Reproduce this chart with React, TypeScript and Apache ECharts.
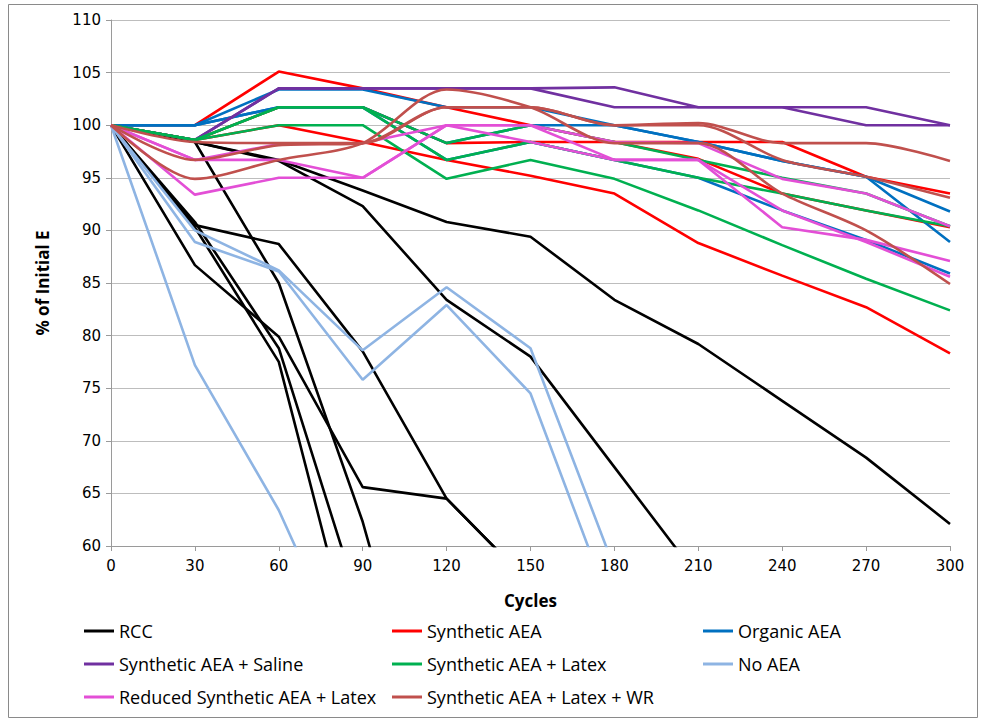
import React, { useEffect, useRef } from "react";
import * as echarts from "echarts";

const cycles = [0, 30, 60, 90, 120, 150, 180, 210, 240, 270, 300];
const yTicksMin = 60;
const yTicksMax = 110;

const groupNames = [
  "RCC",
  "Synthetic AEA",
  "Organic AEA",
  "Synthetic AEA + Saline",
  "Synthetic AEA + Latex",
  "No AEA",
  "Reduced Synthetic AEA + Latex",
  "Synthetic AEA + Latex + WR",
];
const groupColors = ["#000000", "#FF0000", "#0070C0", "#7030A0", "#00B050", "#8EB4E3", "#E34FD6", "#C0504D"];

// RCC
const rcc1 = [100, 98.4, 96.7, 93.8, 90.8, 89.4, 83.4, 79.2, 73.8, 68.4, 62.1];
const rcc2 = [100, 98.4, 96.6, 92.3, 83.4, 78.0, 67.5, 57.0, null, null, null];
const rcc3 = [100, 98.4, 85.0, 62.3, 34.0, null, null, null, null, null, null];
const rcc4 = [100, 86.7, 79.9, 65.6, 64.5, 56.4, null, null, null, null, null];
const rcc5 = [100, 90.5, 88.7, 78.5, 64.5, 56.4, null, null, null, null, null];
const rcc6 = [100, 90.8, 78.8, 53.5, null, null, null, null, null, null, null];
const rcc7 = [100, 90.3, 77.5, 46.6, null, null, null, null, null, null, null];
// Synthetic AEA
const sa1 = [100, 100, 105.1, 103.5, 101.7, 100, 98.4, 98.4, 98.4, 95.1, 93.5];
const sa2 = [100, 98.6, 101.7, 101.7, 98.3, 98.4, 98.4, 96.8, 93.5, 91.9, 90.3];
const sa3 = [100, 98.6, 100, 98.4, 96.7, 95.2, 93.5, 88.8, 85.7, 82.7, 78.3];
// Organic AEA
const oa1 = [100, 100, 103.4, 103.4, 101.7, 101.7, 100, 98.4, 96.6, 95.1, 91.8];
const oa2 = [100, 100, 101.7, 101.7, 98.3, 100, 100, 98.4, 96.6, 95.1, 88.9];
const oa3 = [100, 100, 101.7, 101.7, 96.7, 98.4, 96.7, 95.0, 91.9, 89.1, 85.9];
// Synthetic AEA + Saline
const sal1 = [100, 98.6, 103.5, 103.5, 103.5, 103.5, 103.6, 101.7, 101.7, 101.7, 100];
const sal2 = [100, 98.6, 103.5, 103.5, 103.5, 103.5, 101.7, 101.7, 101.7, 100, 100];
// Synthetic AEA + Latex
const lat1 = [100, 98.6, 101.7, 101.7, 98.3, 100, 98.4, 96.7, 95.0, 93.5, 90.4];
const lat2 = [100, 98.6, 101.7, 101.7, 96.7, 98.4, 96.7, 95.0, 93.5, 91.9, 90.4];
const lat3 = [100, 98.6, 100, 100, 94.9, 96.7, 94.9, 91.9, 88.6, 85.4, 82.4];
// No AEA
const na1 = [100, 77.2, 63.4, 45.8, null, null, null, null, null, null, null];
const na2 = [100, 90.0, 86.2, 78.6, 84.6, 78.8, 57.9, null, null, null, null];
const na3 = [100, 88.9, 86.1, 75.8, 82.9, 74.5, 53.3, null, null, null, null];
// Reduced Synthetic AEA + Latex
const rsl1 = [100, 96.7, 96.7, 95.0, 100, 100, 98.4, 98.3, 94.9, 93.5, 90.4];
const rsl2 = [100, 93.4, 95.0, 95.0, 100, 100, 96.7, 96.7, 90.3, 89.1, 87.1];
const rsl3 = [100, 96.7, 98.2, 98.3, 100, 98.4, 96.7, 96.7, 91.9, 88.9, 85.6];
// Synthetic AEA + Latex + WR
const wr1 = [100, 94.9, 96.7, 98.3, 103.4, 101.7, 98.3, 98.3, 93.5, 90.0, 84.9];
const wr2 = [100, 98.4, 98.3, 98.3, 101.7, 101.7, 100, 100.2, 98.3, 98.3, 96.6];
const wr3 = [100, 96.7, 98.1, 98.3, 101.7, 101.7, 100, 100, 96.7, 95.1, 93.1];

const groups: (number | null)[][][] = [
  [rcc1, rcc2, rcc3, rcc4, rcc5, rcc6, rcc7],
  [sa1, sa2, sa3],
  [oa1, oa2, oa3],
  [sal1, sal2],
  [lat1, lat2, lat3],
  [na1, na2, na3],
  [rsl1, rsl2, rsl3],
  [wr1, wr2, wr3],
];
const smoothGroups = [false, false, false, false, false, false, false, true];

const legendSlots = [
  [84, 622], [392, 622], [703, 622],
  [84, 655], [392, 655], [703, 655],
  [84, 688], [392, 688],
];

const narrow = "'Liberation Sans Narrow', 'Arial Narrow', 'Open Sans', sans-serif";

export default function App() {
  const ref = useRef<HTMLDivElement>(null);
  useEffect(() => {
    document.body.style.margin = "0";
    const chart = echarts.init(ref.current!, undefined, { renderer: "svg" });
    const series: any[] = [];
    groups.forEach((lines, gi) => {
      lines.forEach((vals) => {
        series.push({
          type: "line",
          name: groupNames[gi],
          data: cycles.map((c, i) => [c, vals[i]]),
          showSymbol: false,
          symbol: "none",
          smooth: smoothGroups[gi] ? 0.3 : false,
          connectNulls: false,
          clip: true,
          lineStyle: { color: groupColors[gi], width: 2.6 },
          itemStyle: { color: groupColors[gi] },
        });
      });
    });
    const legends = groupNames.map((n, i) => ({
      data: [n],
      left: legendSlots[i][0],
      top: legendSlots[i][1],
      padding: 0,
      icon: "rect",
      itemWidth: 30,
      itemHeight: 3,
      itemGap: 0,
      textStyle: { fontFamily: narrow, fontSize: 18, color: "#000" },
    }));
    chart.setOption({
      animation: false,
      backgroundColor: "#fff",
      grid: { left: 111, right: 36, top: 20, bottom: 176, containLabel: false },
      legend: legends,
      graphic: [
        {
          type: "rect",
          shape: { x: 8.5, y: 4.5, width: 969, height: 713 },
          style: { fill: "none", stroke: "#8a8a8a", lineWidth: 1 },
          silent: true,
        },
      ],
      xAxis: {
        type: "value",
        min: 0,
        max: 300,
        interval: 30,
        name: "Cycles",
        nameLocation: "middle",
        nameGap: 46,
        nameTextStyle: { fontFamily: narrow, fontWeight: "bold", fontSize: 17, color: "#000" },
        axisLine: { show: true, lineStyle: { color: "#9a9a9a", width: 1 } },
        axisTick: { show: true, length: 5, lineStyle: { color: "#9a9a9a" } },
        axisLabel: { margin: 12, fontFamily: "'DejaVu Sans', Verdana, sans-serif", fontSize: 15, color: "#000" },
        splitLine: { show: false },
      },
      yAxis: {
        type: "value",
        min: yTicksMin,
        max: yTicksMax,
        interval: 5,
        name: "% of Initial E",
        nameLocation: "middle",
        nameGap: 60,
        nameRotate: 90,
        nameTextStyle: { fontFamily: narrow, fontWeight: "bold", fontSize: 17, color: "#000" },
        axisLine: { show: true, lineStyle: { color: "#9a9a9a", width: 1 } },
        axisTick: { show: true, length: 5, lineStyle: { color: "#9a9a9a" } },
        axisLabel: { margin: 10, fontFamily: "'DejaVu Sans', Verdana, sans-serif", fontSize: 15, color: "#000" },
        splitLine: { show: true, lineStyle: { color: "#bdbdbd", width: 1 } },
      },
      series,
    });
    return () => chart.dispose();
  }, []);
  return <div ref={ref} style={{ width: 986, height: 722 }} />;
}
